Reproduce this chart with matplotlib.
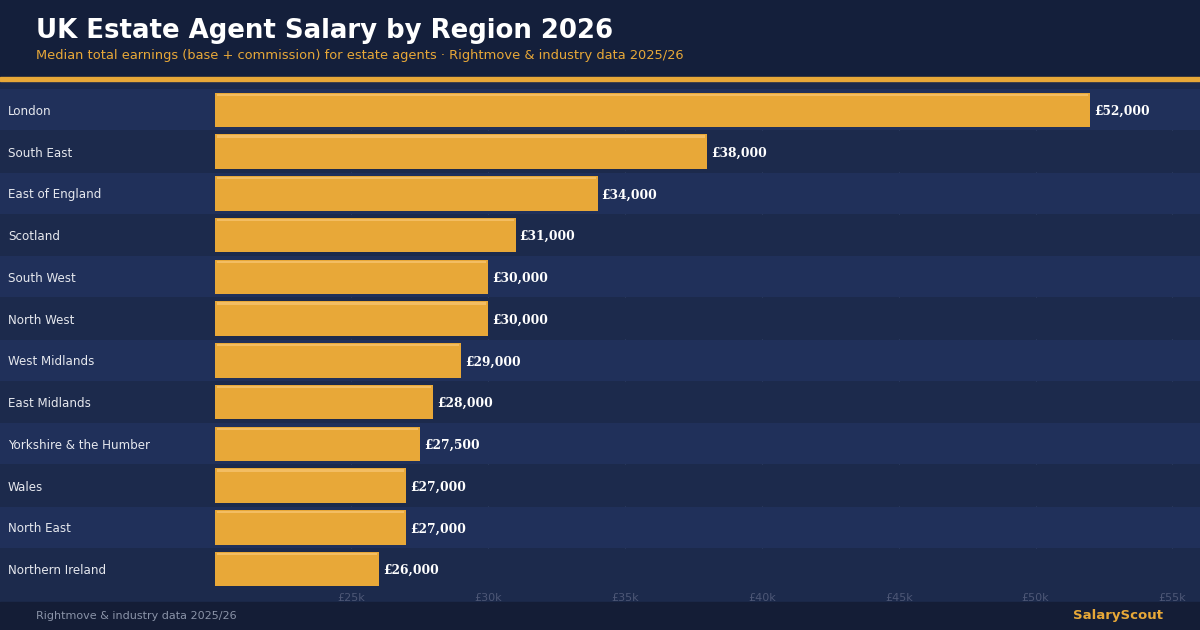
import numpy as np
import matplotlib.pyplot as plt
from matplotlib.patches import Rectangle
from matplotlib.transforms import blended_transform_factory

regions = ["London", "South East", "East of England", "Scotland", "South West",
           "North West", "West Midlands", "East Midlands", "Yorkshire & the Humber",
           "Wales", "North East", "Northern Ireland"]
salaries = [52000, 38000, 34000, 31000, 30000, 30000, 29000, 28000, 27500,
            27000, 27000, 26000]
tick_values = [25000, 30000, 35000, 40000, 45000, 50000, 55000]
tick_labels = ["£25k", "£30k", "£35k", "£40k", "£45k", "£50k", "£55k"]

HEADER = "#141f3b"
FOOTER = "#141d36"
BAND_A = "#20305a"
BAND_B = "#1c2a4c"
BAR = "#e8a838"
HILITE = "#f3bd62"

W, H = 1200, 630
fig = plt.figure(figsize=(12, 6.3), dpi=100)
fig.patch.set_facecolor(BAND_B)

# header, accent line and footer drawn in figure coordinates
fig.patches.append(Rectangle((0, 1 - 77 / H), 1, 77 / H, transform=fig.transFigure,
                             color=HEADER, zorder=0))
fig.patches.append(Rectangle((0, 1 - 81 / H), 1, 4 / H, transform=fig.transFigure,
                             color=BAR, zorder=1))
fig.patches.append(Rectangle((0, 0), 1, 28 / H, transform=fig.transFigure,
                             color=FOOTER, zorder=0))

fig.text(36 / W, 1 - 31 / H, "UK Estate Agent Salary by Region 2026", color="white",
         fontsize=18.7, fontweight="bold", va="center", ha="left")
fig.text(36 / W, 1 - 55 / H,
         "Median total earnings (base + commission) for estate agents · Rightmove & industry data 2025/26",
         color=BAR, fontsize=9.4, va="center", ha="left")
fig.text(36 / W, 1 - 616 / H, "Rightmove & industry data 2025/26", color="#8a93a8",
         fontsize=8, va="center", ha="left")
fig.text(1163 / W, 1 - 616 / H, "SalaryScout", color=BAR, fontsize=9.5,
         fontweight="bold", va="center", ha="right")

# plot area: full width so row bands reach the left labels
top_px, bot_px = 89, 590
ax = fig.add_axes([0, 1 - bot_px / H, 1, (bot_px - top_px) / H])
ax.set_facecolor(BAND_B)
for s in ax.spines.values():
    s.set_visible(False)

scale = (1172 - 351) / 30000  # px per pound
x0 = 20000
xmin = x0 - 214.5 / scale
xmax = x0 + (W - 214.5) / scale
n = len(regions)
ax.set_xlim(xmin, xmax)
ax.set_ylim(n - 0.5, -0.5)
row_px = (bot_px - top_px) / n

y = np.arange(n)
for i in y:
    ax.add_patch(Rectangle((xmin, i - 0.5 + 0.01), xmax - xmin, 0.98,
                           color=BAND_A if i % 2 == 0 else BAND_B, zorder=1, lw=0))

for t in tick_values:
    ax.axvline(t, color="#3a4a70", lw=0.6, alpha=0.5, zorder=0.5)

bar_h = 0.83
ax.barh(y, [v - x0 for v in salaries], left=x0, height=bar_h, color=BAR, zorder=2)
# light strip along the top of each bar
strip = 2.2 / row_px
ax.barh(y - bar_h / 2 + 2.2 / row_px, [v - x0 - 4 / scale for v in salaries],
        left=x0 + 2 / scale, height=strip, color=HILITE, zorder=3)

# text sits a touch below the bar centre, as in the original
dy = 1.5 / row_px
for i, v in zip(y, salaries):
    ax.text(v + 4 / scale, i + dy, f"£{v:,}", color="white", fontsize=8.8,
            fontweight="bold", family="DejaVu Serif", va="center", ha="left", zorder=4)

trans = blended_transform_factory(ax.transAxes, ax.transData)
for i, r in zip(y, regions):
    ax.text(8 / W, i + dy, r, transform=trans, color="#e6e8ee", fontsize=8.6,
            va="center", ha="left", zorder=4)

ax.set_yticks([])
ax.set_xticks(tick_values)
ax.set_xticklabels(tick_labels, color="#4d5776", fontsize=8)
ax.tick_params(axis="x", length=0, pad=2)

fig.savefig("out.png", dpi=100, facecolor=fig.get_facecolor())
